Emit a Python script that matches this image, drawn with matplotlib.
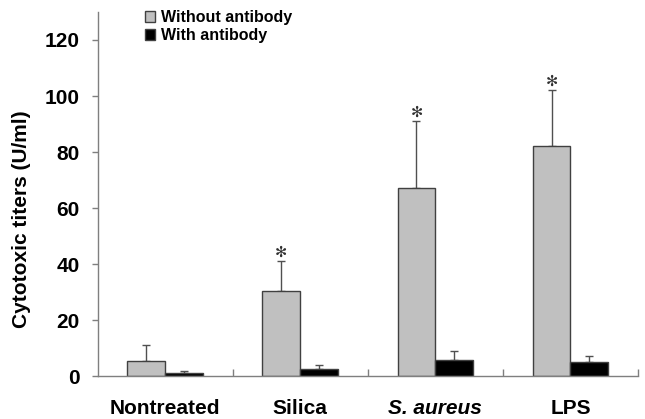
import numpy as np
import matplotlib
matplotlib.use("Agg")
import matplotlib.pyplot as plt

plt.rcParams["font.family"] = ["Liberation Sans", "DejaVu Sans"]

# ── Data ─────────────────────────────────────────────────────────────────────
categories     = ["Nontreated", "Silica", "S. aureus", "LPS"]
without_ab     = [5.2, 30.5, 67.1, 82.0]
without_ab_err = [6.0, 10.6, 24.1, 20.3]
with_ab        = [1.2, 2.5, 5.6, 5.1]
with_ab_err    = [0.7, 1.4, 3.3, 2.2]
significant    = [False, True, True, True]
# ─────────────────────────────────────────────────────────────────────────────

AXIS_GREY = "#7f7f7f"
BAR_W     = 0.28
W, H      = 645, 419

fig = plt.figure(figsize=(W / 100, H / 100), dpi=100)
ax = fig.add_axes([97.7 / W, 43 / H, 540.3 / W, 364 / H])

x = np.arange(len(categories)) + 0.5
ax.bar(x - BAR_W / 2, without_ab, BAR_W, color="#c0c0c0", edgecolor="#404040",
       linewidth=1.0, label="Without antibody", zorder=2)
ax.bar(x + BAR_W / 2, with_ab, BAR_W, color="black", edgecolor="#404040",
       linewidth=1.0, label="With antibody", zorder=2)

err_kw = dict(fmt="none", ecolor="#505050", elinewidth=1.0, capsize=3, capthick=1.0, zorder=1)
ax.errorbar(x - BAR_W / 2, without_ab, yerr=[np.zeros(4), without_ab_err], **err_kw)
ax.errorbar(x + BAR_W / 2, with_ab, yerr=[np.zeros(4), with_ab_err], **err_kw)

# significance marks just above the error caps
for xi, v, e, s in zip(x, without_ab, without_ab_err, significant):
    if s:
        ax.text(xi - BAR_W / 2, v + e + 3.0, "\u273b", ha="center", va="center",
                fontsize=10.5, color="#303030", family="DejaVu Sans")

ax.set_xlim(0, 4)
ax.set_ylim(0, 130)
ax.set_yticks([0, 20, 40, 60, 80, 100, 120])
ax.set_xticks([1, 2, 3, 4])
ax.set_xticklabels([])
ax.tick_params(axis="x", direction="in", length=5, color=AXIS_GREY, width=1.0)
ax.tick_params(axis="y", direction="out", length=4, color=AXIS_GREY, width=1.0,
               labelsize=15, pad=9)
for lbl in ax.get_yticklabels():
    lbl.set_fontweight("bold")

for xi, name in zip(x, categories):
    ax.text(xi, -11.6, name, ha="center", va="center", fontsize=15, fontweight="bold",
            style="italic" if name == "S. aureus" else "normal")

for side in ["top", "right"]:
    ax.spines[side].set_visible(False)
for side in ["left", "bottom"]:
    ax.spines[side].set_color(AXIS_GREY)
    ax.spines[side].set_linewidth(1.0)

fig.text(22 / W, 1 - 219 / H, "Cytotoxic titers (U/ml)", rotation=90,
         ha="center", va="center", fontsize=15, fontweight="bold")

ax.legend(loc="upper left", bbox_to_anchor=(0.067, 1.035), frameon=False,
          prop={"weight": "bold", "size": 11.5}, handlelength=0.65, handleheight=0.65,
          handletextpad=0.35, labelspacing=0.15, borderpad=0.2)

fig.savefig("out.png", dpi=100)
